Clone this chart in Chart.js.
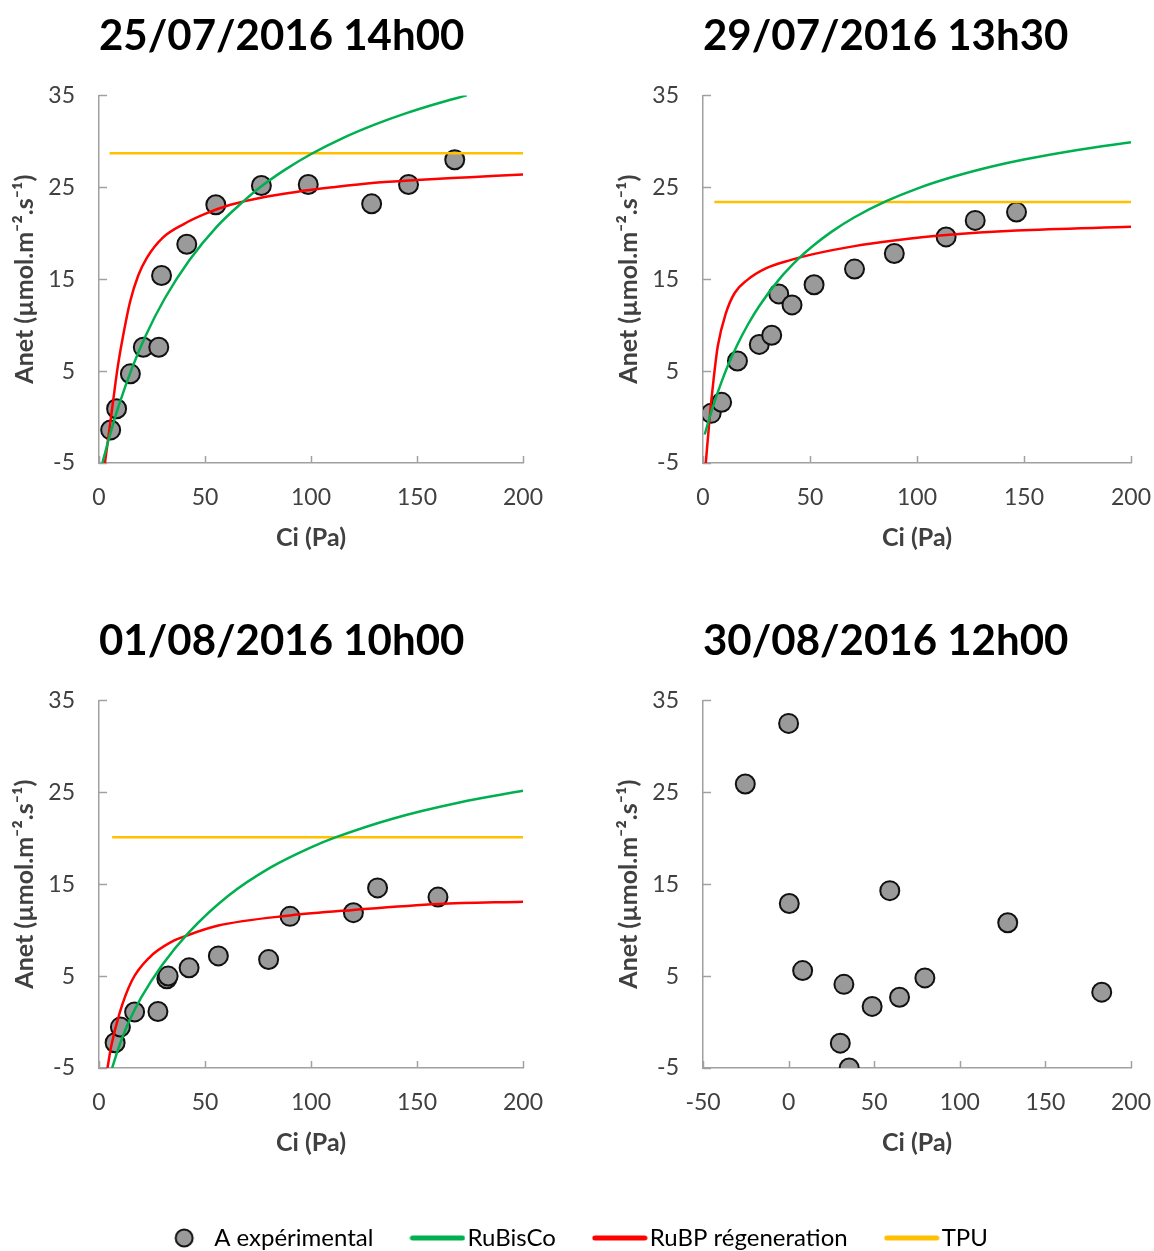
<!DOCTYPE html>
<html>
<head>
<meta charset="utf-8">
<script src="https://cdn.jsdelivr.net/npm/chart.js@4.4.1/dist/chart.umd.min.js"></script>
<style>
  html, body { margin: 0; padding: 0; background: #fff; overflow: hidden; }
  body { position: relative; width: 1154px; height: 1251px; }
  canvas { position: absolute; }
</style>
</head>
<body>
<canvas id="p1" width="560" height="570" style="left:0;top:0"></canvas>
<canvas id="p2" width="550" height="570" style="left:604px;top:0"></canvas>
<canvas id="p3" width="560" height="570" style="left:0;top:605px"></canvas>
<canvas id="p4" width="550" height="570" style="left:604px;top:605px"></canvas>
<canvas id="legend" width="1154" height="100" style="left:0;top:1180px"></canvas>
<script>
// ---- data ----
const titles = ['25/07/2016 14h00', '29/07/2016 13h30', '01/08/2016 10h00', '30/08/2016 12h00'];
const seriesLabels = ['A expérimental', 'RuBisCo', 'RuBP régeneration', 'TPU'];
const xAxisLabel = 'Ci (Pa)';
const yAxisLabel = 'Anet (µmol.m⁻².s⁻¹)';

// 25/07/2016 14h00
const ci1 = [5.5, 8.3, 14.8, 20.9, 28.2, 29.5, 41.4, 55.1, 76.6, 98.7, 128.6, 146.0, 167.8];
const anet1 = [-1.4, 0.9, 4.7, 7.6, 7.6, 15.4, 18.8, 23.1, 25.2, 25.3, 23.2, 25.3, 28.0];
const rubiscoCi1 = [1.6, 6, 9.4, 15.4, 22, 31, 42.6, 55.5, 67.3, 76, 88, 100.3, 115, 130, 145, 160, 173.5];
const rubiscoA1 = [-5, -1.26, 1.3, 5.22, 8.85, 12.9, 17.07, 20.7, 23.3, 25.0, 26.95, 28.65, 30.36, 31.82, 33.07, 34.15, 35];
const rubpCi1 = [2.8, 4.7, 6.8, 8.8, 11.5, 14.6, 18.5, 22.5, 30, 40, 50, 62, 77, 93, 110, 130, 150, 175, 200];
const rubpA1 = [-5, -1.7, 2.0, 5.4, 9.0, 12.5, 15.4, 17.3, 19.5, 21.0, 22.1, 23.1, 23.9, 24.5, 25.0, 25.5, 25.8, 26.1, 26.4];
const tpuCi1 = [5, 200];
const tpuA1 = [28.7, 28.7];

// 29/07/2016 13h30
const ci2 = [3.8, 8.7, 16.1, 26.3, 32.1, 35.4, 41.6, 51.9, 70.8, 89.4, 113.6, 127.2, 146.5];
const anet2 = [0.4, 1.6, 6.1, 7.9, 8.9, 13.4, 12.2, 14.4, 16.1, 17.8, 19.6, 21.4, 22.3];
const rubiscoCi2 = [0.8, 3, 5, 8.7, 12, 16.1, 21, 26.3, 35.4, 45, 51.9, 60, 70.8, 85.6, 100.4, 116.9, 135, 150, 175, 200];
const rubiscoA2 = [-1.9, -0.11, 1.39, 3.85, 5.79, 7.89, 10.07, 12.09, 14.93, 17.31, 18.72, 20.15, 21.74, 23.49, 24.89, 26.14, 27.26, 28.02, 29.06, 29.9];
const rubpCi2 = [1.3, 3.3, 4.9, 6.9, 10.7, 14.8, 20.6, 29.6, 41.2, 51, 70.8, 89.4, 113.6, 146.5, 200];
const rubpA2 = [-5, 0.4, 4.0, 7.7, 11.3, 13.5, 14.9, 16.2, 17.1, 17.7, 18.6, 19.2, 19.8, 20.3, 20.7];
const tpuCi2 = [5.3, 200];
const tpuA2 = [23.4, 23.4];

// 01/08/2016 10h00
const ci3 = [7.6, 10.1, 16.8, 27.8, 32.0, 32.6, 42.5, 56.3, 80.0, 90.1, 120.0, 131.4, 159.9];
const anet3 = [-2.25, -0.55, 1.1, 1.15, 4.7, 5.0, 5.9, 7.2, 6.8, 11.5, 11.9, 14.6, 13.6];
const rubiscoCi3 = [6.2, 8.8, 11.3, 14.2, 20, 29.8, 42.5, 61, 81.2, 100, 111.5, 138.5, 170, 200];
const rubiscoA3 = [-5, -3.1, -1.5, 0.1, 2.7, 6.2, 9.78, 13.74, 16.85, 19.01, 20.09, 22.13, 23.89, 25.16];
const rubpCi3 = [4.0, 5.7, 9.6, 15.5, 23.9, 34, 42.5, 56.3, 90.1, 120, 160, 200];
const rubpA3 = [-5, -2.7, 0.9, 4.5, 7.05, 8.7, 9.5, 10.5, 11.6, 12.2, 12.85, 13.1];
const tpuCi3 = [6.2, 200];
const tpuA3 = [20.1, 20.1];

// 30/08/2016 12h00
const ci4 = [-25.3, 0.0, 0.4, 8.2, 30.2, 32.3, 35.4, 48.8, 59.1, 64.8, 79.6, 128.0, 182.9];
const anet4 = [25.9, 32.5, 12.9, 5.6, -2.3, 4.1, -5.0, 1.7, 14.3, 2.7, 4.8, 10.8, 3.25];

const xMins = [0, 0, 0, -50];
const xMax = 200;
const xStep = 50;
const yMin = -5;
const yMax = 35;
const yStep = 10;

// ---- styles ----
const COLORS = { point: '#9a9a9a', pointEdge: '#111', rubisco: '#00b050', rubp: '#ff0000', tpu: '#ffc000', axis: '#a0a0a0', text: '#404040' };
Chart.defaults.font.family = 'Lato, "Open Sans", sans-serif';

const toPoints = (xs, ys) => xs.map((x, i) => ({ x, y: ys[i] }));

// small tick marks pointing into the plot, like the original
const innerTicks = {
    id: 'innerTicks',
    beforeDatasetsDraw(chart) {
        const { ctx, chartArea, scales: { x, y } } = chart;
        ctx.save();
        ctx.strokeStyle = COLORS.axis;
        ctx.lineWidth = 1.5;
        x.ticks.forEach(t => {
            const px = Math.round(x.getPixelForValue(t.value)) + 0.5;
            ctx.beginPath();
            ctx.moveTo(px, chartArea.bottom);
            ctx.lineTo(px, chartArea.bottom - 7);
            ctx.stroke();
        });
        y.ticks.forEach(t => {
            const py = Math.round(y.getPixelForValue(t.value)) + 0.5;
            ctx.beginPath();
            ctx.moveTo(chartArea.left, py);
            ctx.lineTo(chartArea.left + 8, py);
            ctx.stroke();
        });
        ctx.restore();
    }
};

function curve(label, xs, ys, color) {
    return {
        label, data: toPoints(xs, ys), showLine: true,
        borderColor: color, backgroundColor: color, borderWidth: 2.5,
        pointRadius: 0, pointHoverRadius: 0, fill: false,
        cubicInterpolationMode: 'monotone'
    };
}

function measured(xs, ys) {
    return {
        label: seriesLabels[0], data: toPoints(xs, ys),
        backgroundColor: COLORS.point, borderColor: COLORS.pointEdge,
        borderWidth: 2, pointRadius: 9.5, pointHoverRadius: 9.5
    };
}

function panelOptions(idx, padRight) {
    const tickFont = { size: 23 };
    const titleFont = { size: 25, weight: 'bold' };
    return {
        responsive: false,
        animation: false,
        layout: { padding: { left: 0, right: padRight, top: 0, bottom: 0 } },
        plugins: {
            legend: { display: false },
            tooltip: { enabled: false },
            title: {
                display: true, text: titles[idx], align: 'start', fullSize: false,
                color: '#000', font: { size: 42, weight: 'bold' },
                padding: { top: 11, bottom: 34 }
            }
        },
        scales: {
            x: {
                type: 'linear', min: xMins[idx], max: xMax,
                ticks: { stepSize: xStep, padding: 21, color: COLORS.text, font: tickFont },
                grid: { display: true, drawOnChartArea: false, drawTicks: false },
                border: { display: true, color: COLORS.axis, width: 1.5 },
                title: { display: true, text: xAxisLabel, color: COLORS.text, font: titleFont, padding: { top: 0, bottom: 17 } },
                afterFit: s => { s.height = 107; s.paddingLeft = 0; s.paddingRight = 0; }
            },
            y: {
                type: 'linear', min: yMin, max: yMax,
                ticks: { stepSize: yStep, padding: 24, color: COLORS.text, font: tickFont },
                grid: { display: true, drawOnChartArea: false, drawTicks: false },
                border: { display: true, color: COLORS.axis, width: 1.5 },
                title: { display: true, text: yAxisLabel, color: COLORS.text, font: titleFont, padding: { top: 10, bottom: 0 } },
                afterFit: s => { s.width = 99; }
            }
        }
    };
}

const panels = [
    { id: 'p1', padRight: 37, sets: [
        curve(seriesLabels[1], rubiscoCi1, rubiscoA1, COLORS.rubisco),
        curve(seriesLabels[2], rubpCi1, rubpA1, COLORS.rubp),
        curve(seriesLabels[3], tpuCi1, tpuA1, COLORS.tpu),
        measured(ci1, anet1)] },
    { id: 'p2', padRight: 23, sets: [
        curve(seriesLabels[1], rubiscoCi2, rubiscoA2, COLORS.rubisco),
        curve(seriesLabels[2], rubpCi2, rubpA2, COLORS.rubp),
        curve(seriesLabels[3], tpuCi2, tpuA2, COLORS.tpu),
        measured(ci2, anet2)] },
    { id: 'p3', padRight: 37, sets: [
        curve(seriesLabels[1], rubiscoCi3, rubiscoA3, COLORS.rubisco),
        curve(seriesLabels[2], rubpCi3, rubpA3, COLORS.rubp),
        curve(seriesLabels[3], tpuCi3, tpuA3, COLORS.tpu),
        measured(ci3, anet3)] },
    { id: 'p4', padRight: 23, sets: [measured(ci4, anet4)] }
];

panels.forEach((p, i) => {
    new Chart(document.getElementById(p.id), {
        type: 'scatter',
        data: { datasets: p.sets },
        options: panelOptions(i, p.padRight),
        plugins: [innerTicks]
    });
});

// ---- shared legend ----
function legendIcon(kind, color) {
    const c = document.createElement('canvas');
    const g = c.getContext('2d');
    if (kind === 'circle') {
        c.width = 22; c.height = 22;
        g.beginPath();
        g.arc(11, 11, 8.5, 0, Math.PI * 2);
        g.fillStyle = COLORS.point; g.fill();
        g.lineWidth = 2; g.strokeStyle = COLORS.pointEdge; g.stroke();
    } else {
        c.width = 56; c.height = 8;
        g.beginPath();
        g.moveTo(3, 4); g.lineTo(53, 4);
        g.lineCap = 'round'; g.lineWidth = 5; g.strokeStyle = color; g.stroke();
    }
    return c;
}
const legendIcons = [
    legendIcon('circle'),
    legendIcon('line', COLORS.rubisco),
    legendIcon('line', COLORS.rubp),
    legendIcon('line', COLORS.tpu)
];

new Chart(document.getElementById('legend'), {
    type: 'scatter',
    data: { datasets: seriesLabels.map(label => ({ label, data: [] })) },
    options: {
        responsive: false,
        animation: false,
        layout: { padding: 0 },
        scales: { x: { display: false }, y: { display: false } },
        plugins: {
            tooltip: { enabled: false },
            legend: {
                display: true, position: 'top', maxHeight: 100,
                labels: {
                    usePointStyle: true, pointStyleWidth: 36, boxHeight: 24,
                    padding: 46, color: '#262626', font: { size: 24 },
                    generateLabels: () => seriesLabels.map((text, i) => ({
                        text, pointStyle: legendIcons[i], fillStyle: 'transparent',
                        strokeStyle: 'transparent', lineWidth: 0, hidden: false, datasetIndex: i
                    }))
                }
            }
        }
    }
});
</script>
</body>
</html>
